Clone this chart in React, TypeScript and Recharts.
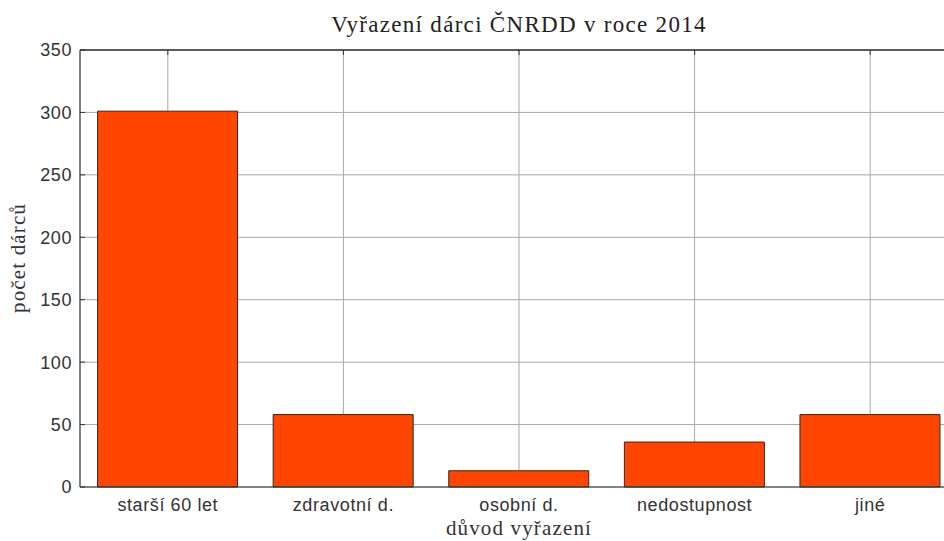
import { BarChart, Bar, XAxis, YAxis, CartesianGrid, ReferenceLine } from "recharts";

// --- Data ---

const CATEGORIES = ["starší 60 let", "zdravotní d.", "osobní d.", "nedostupnost", "jiné"];
const DONORS = [301, 58, 13, 36, 58];
const Y_TICKS = [0, 50, 100, 150, 200, 250, 300, 350];

const TITLE = "Vyřazení dárci ČNRDD v roce 2014";
const X_LABEL = "důvod vyřazení";
const Y_LABEL = "počet dárců";

// --- Look ---

const BAR_FILL = "#FF4500";
const FRAME = "#333333";
const GRID = "#a8a8a8";
const TICK_TEXT = "#333333";
const SANS = "'Liberation Sans', Arial, sans-serif";
const SERIF = "'Liberation Serif', 'Times New Roman', serif";

const PLOT_LEFT = 80;
const PLOT_TOP = 50;

const chartData = CATEGORIES.map((name, i) => ({ name, value: DONORS[i] }));

function XTick(props: { x?: number; y?: number; payload?: { value: string } }) {
  const { x = 0, payload } = props;
  return (
    <g>
      <line x1={x} x2={x} y1={PLOT_TOP} y2={PLOT_TOP + 5} stroke={FRAME} />
      <text
        x={x}
        y={511}
        textAnchor="middle"
        fill={TICK_TEXT}
        fontFamily={SANS}
        fontSize={18}
        letterSpacing={0.6}
      >
        {payload?.value}
      </text>
    </g>
  );
}

function YTick(props: { x?: number; y?: number; payload?: { value: number } }) {
  const { y = 0, payload } = props;
  return (
    <g>
      <line x1={PLOT_LEFT} x2={PLOT_LEFT + 5} y1={y} y2={y} stroke={FRAME} />
      <text
        x={72}
        y={y}
        dy="0.36em"
        textAnchor="end"
        fill={TICK_TEXT}
        fontFamily={SANS}
        fontSize={18}
        letterSpacing={0.6}
      >
        {payload?.value}
      </text>
    </g>
  );
}

export default function App() {
  return (
    <div
      style={{
        position: "fixed",
        left: 0,
        top: 0,
        width: 944,
        height: 541,
        overflow: "hidden",
        background: "#fff",
      }}
    >
      <BarChart
        width={972}
        height={541}
        data={chartData}
        margin={{ top: PLOT_TOP, right: 14, bottom: 0, left: 0 }}
        barCategoryGap="10%"
      >
        <CartesianGrid stroke={GRID} />
        <XAxis
          dataKey="name"
          height={54}
          axisLine={{ stroke: FRAME }}
          tickLine={false}
          tick={<XTick />}
          interval={0}
          label={({ viewBox }: any) => (
            <text
              x={viewBox.x + viewBox.width / 2}
              y={535}
              textAnchor="middle"
              fill="#333"
              fontFamily={SERIF}
              fontSize={21}
              letterSpacing={1.15}
            >
              {X_LABEL}
            </text>
          )}
        />
        <YAxis
          width={PLOT_LEFT}
          domain={[0, 350]}
          ticks={Y_TICKS}
          interval={0}
          axisLine={{ stroke: FRAME }}
          tickLine={false}
          tick={<YTick />}
          label={() => (
            <text
              x={25}
              y={258}
              transform="rotate(-90 25 258)"
              textAnchor="middle"
              fill="#333"
              fontFamily={SERIF}
              fontSize={21}
              letterSpacing={1.15}
            >
              {Y_LABEL}
            </text>
          )}
        />
        <ReferenceLine
          y={350}
          stroke={FRAME}
          strokeWidth={1.5}
          label={({ viewBox }: any) => (
            <text
              x={viewBox.x + viewBox.width / 2}
              y={32}
              textAnchor="middle"
              fill="#222"
              fontFamily={SERIF}
              fontSize={23}
              letterSpacing={1.3}
            >
              {TITLE}
            </text>
          )}
        />
        <Bar
          dataKey="value"
          fill={BAR_FILL}
          stroke="#2a2a2a"
          strokeWidth={1}
          isAnimationActive={false}
        />
      </BarChart>
    </div>
  );
}
